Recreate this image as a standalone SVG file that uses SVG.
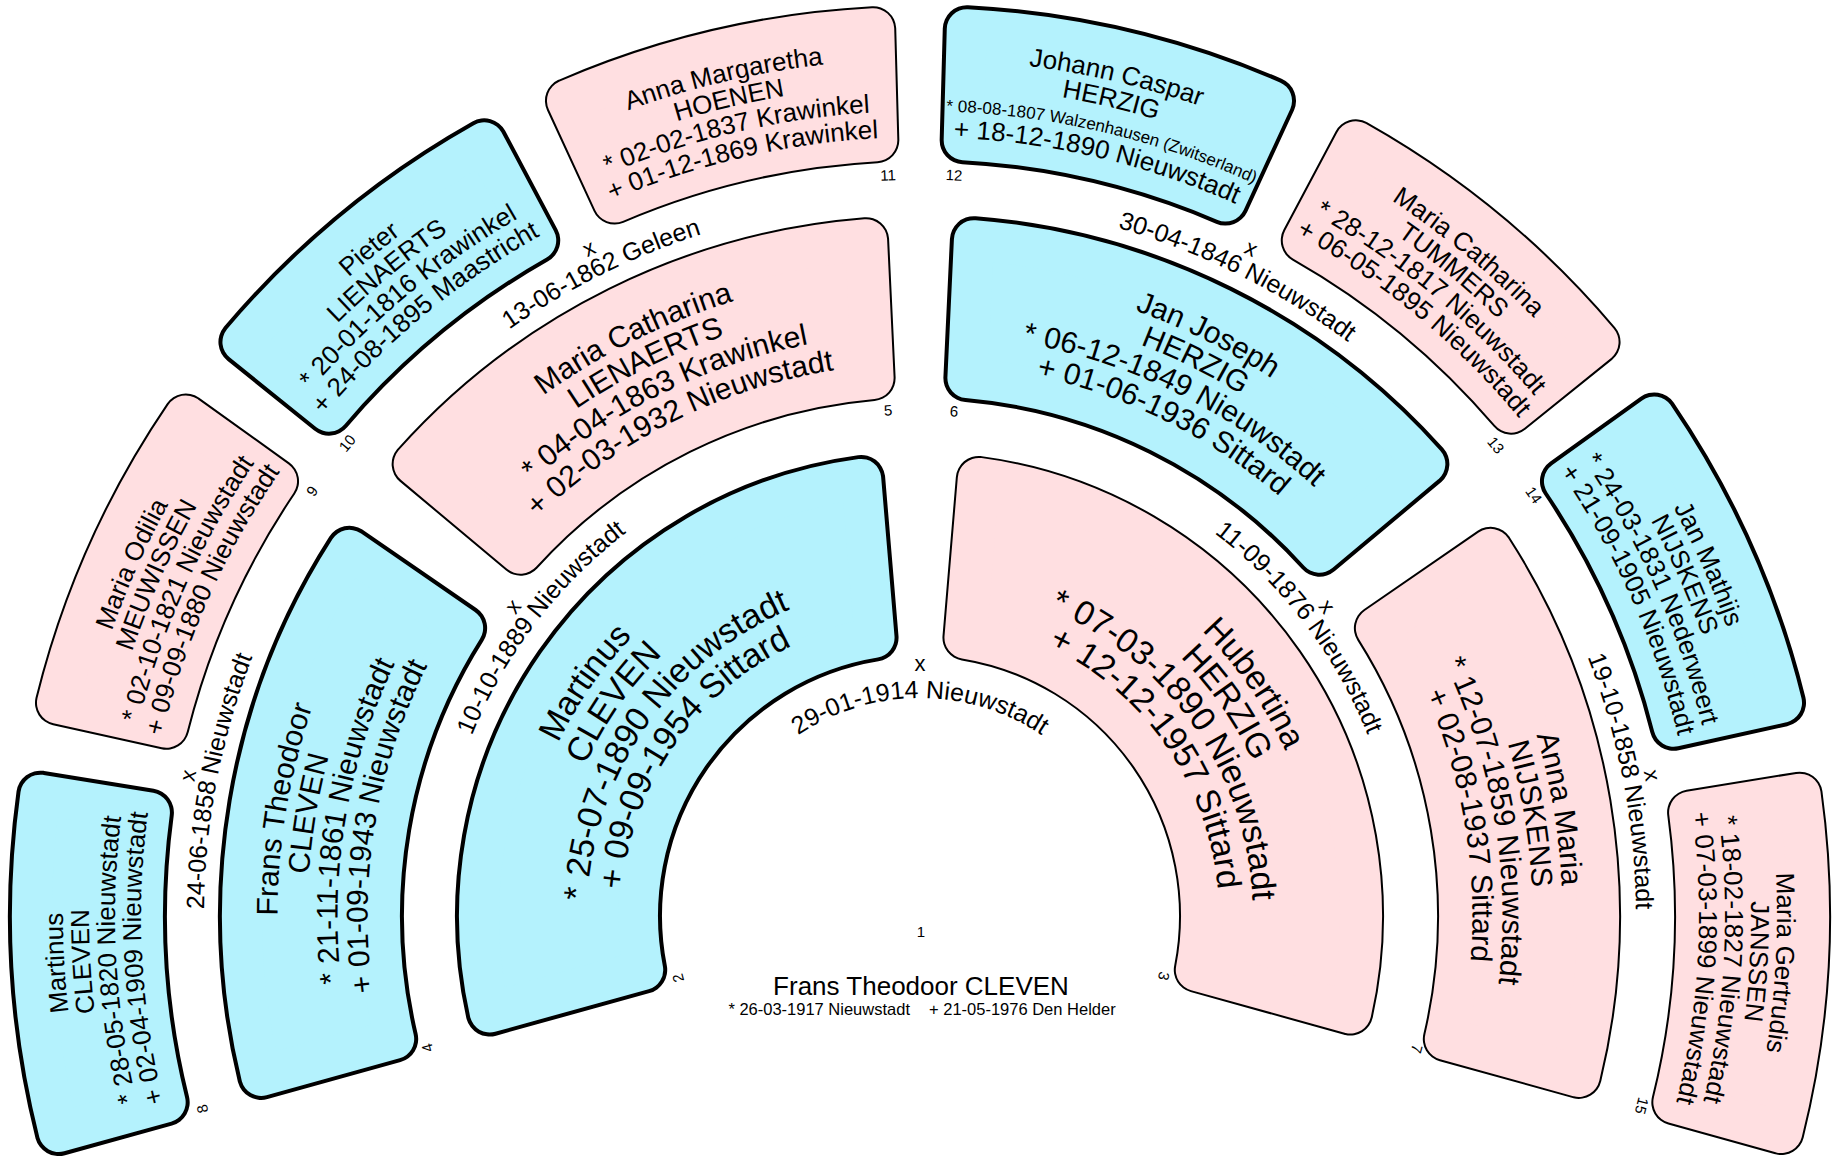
<svg xmlns="http://www.w3.org/2000/svg" xmlns:xlink="http://www.w3.org/1999/xlink" width="1834" height="1163" viewBox="0 0 1834 1163">
<style>
text{font-family:'Liberation Sans',Arial,Helvetica,sans-serif;fill:#000;text-anchor:middle}
.om{fill:#000;stroke:#000;stroke-width:48;stroke-linejoin:round}
.fm{fill:#b4f2fd;stroke:#b4f2fd;stroke-width:40;stroke-linejoin:round}
.of{fill:#000;stroke:#000;stroke-width:46;stroke-linejoin:round}
.ff{fill:#ffdfe1;stroke:#ffdfe1;stroke-width:42;stroke-linejoin:round}
.t1{font-size:34px}.t2{font-size:30px}.t3{font-size:26px}.ts{font-size:17px}
.tm{font-size:25px}.tx{font-size:22px}.num{font-size:15px;dominant-baseline:central}
.c1{font-size:26px}.c2{font-size:16.5px}
</style>
<defs>
<path id="g1" d="M -325.09 -297.99 A 441 441 0 0 1 325.09 -297.99 L 202.43 -196.33 A 282 282 0 0 0 -202.43 -196.33 Z"/>
<path id="g2a" d="M -266.72 -623.33 A 678 678 0 0 1 266.72 -623.33 L 208.31 -498.21 A 540 540 0 0 0 -208.31 -498.21 Z"/>
<path id="g2b" d="M -251.97 -629.45 A 678 678 0 0 1 251.97 -629.45 L 196.51 -502.97 A 540 540 0 0 0 -196.51 -502.97 Z"/>
<path id="g3a" d="M -168.95 -871.79 A 888 888 0 0 1 168.95 -871.79 L 145.13 -763.33 A 777 777 0 0 0 -145.13 -763.33 Z"/>
<path id="g3b" d="M -156.77 -874.06 A 888 888 0 0 1 156.77 -874.06 L 134.46 -765.28 A 777 777 0 0 0 -134.46 -765.28 Z"/>
<path id="p401" d="M -376.82 -137.15 A 401 401 0 0 1 376.82 -137.15"/>
<path id="p367" d="M -344.87 -125.52 A 367 367 0 0 1 344.87 -125.52"/>
<path id="p333" d="M -312.92 -113.89 A 333 333 0 0 1 312.92 -113.89"/>
<path id="p299" d="M -280.97 -102.26 A 299 299 0 0 1 280.97 -102.26"/>
<path id="p642" d="M -603.75 -219.75 A 642.5 642.5 0 0 1 603.75 -219.75"/>
<path id="p612" d="M -575.56 -209.49 A 612.5 612.5 0 0 1 575.56 -209.49"/>
<path id="p582" d="M -547.37 -199.23 A 582.5 582.5 0 0 1 547.37 -199.23"/>
<path id="p552" d="M -519.18 -188.97 A 552.5 552.5 0 0 1 519.18 -188.97"/>
<path id="p857" d="M -805.31 -293.11 A 857 857 0 0 1 805.31 -293.11"/>
<path id="p831" d="M -780.88 -284.22 A 831 831 0 0 1 780.88 -284.22"/>
<path id="p805" d="M -756.45 -275.33 A 805 805 0 0 1 756.45 -275.33"/>
<path id="p779" d="M -732.02 -266.43 A 779 779 0 0 1 732.02 -266.43"/>
<path id="p218" d="M -204.85 -74.56 A 218 218 0 0 1 204.85 -74.56"/>
<path id="p483" d="M -453.87 -165.2 A 483 483 0 0 1 453.87 -165.2"/>
<path id="p716" d="M -672.82 -244.89 A 716 716 0 0 1 672.82 -244.89"/>
</defs>

<g id="connectors">
<g id="m2x3" transform="translate(920 916)">
<text class="tx" x="0" y="-245">x</text>
<text class="tm"><textPath href="#p218" startOffset="50%">29-01-1914 Nieuwstadt</textPath></text>
</g>
<g id="m4x5" transform="translate(920 916) rotate(-52.75)">
<text class="tx" x="0" y="-504">x</text>
<text class="tm"><textPath href="#p483" startOffset="50%">10-10-1889 Nieuwstadt</textPath></text>
</g>
<g id="m6x7" transform="translate(920 916) rotate(52.75)">
<text class="tx" x="0" y="-504">x</text>
<text class="tm"><textPath href="#p483" startOffset="50%">11-09-1876 Nieuwstadt</textPath></text>
</g>
<g id="m8x9" transform="translate(920 916) rotate(-79.125)">
<text class="tx" x="0" y="-738">x</text>
<text class="tm"><textPath href="#p716" startOffset="50%">24-06-1858 Nieuwstadt</textPath></text>
</g>
<g id="m10x11" transform="translate(920 916) rotate(-26.375)">
<text class="tx" x="0" y="-738">x</text>
<text class="tm"><textPath href="#p716" startOffset="50%">13-06-1862 Geleen</textPath></text>
</g>
<g id="m12x13" transform="translate(920 916) rotate(26.375)">
<text class="tx" x="0" y="-738">x</text>
<text class="tm"><textPath href="#p716" startOffset="50%">30-04-1846 Nieuwstadt</textPath></text>
</g>
<g id="m14x15" transform="translate(920 916) rotate(79.125)">
<text class="tx" x="0" y="-738">x</text>
<text class="tm"><textPath href="#p716" startOffset="50%">19-10-1858 Nieuwstadt</textPath></text>
</g>
</g>

<g id="n1">
<text class="num" x="921" y="931">1</text>
<text class="c1" x="921" y="995">Frans Theodoor CLEVEN</text>
<text class="c2" x="910" y="1015" style="text-anchor:end">* 26-03-1917 Nieuwstadt</text>
<text class="c2" x="929" y="1015" style="text-anchor:start">+ 21-05-1976 Den Helder</text>
</g>

<g id="n2">
<g transform="translate(920 916) rotate(-55.15)">
<use href="#g1" class="om"/><use href="#g1" class="fm"/>
<text class="t1"><textPath href="#p401" startOffset="50%">Martinus</textPath></text>
<text class="t1"><textPath href="#p367" startOffset="50%">CLEVEN</textPath></text>
<text class="t1"><textPath href="#p333" startOffset="50%">* 25-07-1890 Nieuwstadt</textPath></text>
<text class="t1"><textPath href="#p299" startOffset="50%">+ 09-09-1954 Sittard</textPath></text>
</g>
<text class="num" transform="translate(678 978) rotate(-104.4)">2</text>
</g>

<g id="n3">
<g transform="translate(920 916) rotate(55.15)">
<use href="#g1" class="of"/><use href="#g1" class="ff"/>
<text class="t1"><textPath href="#p401" startOffset="50%">Hubertina</textPath></text>
<text class="t1"><textPath href="#p367" startOffset="50%">HERZIG</textPath></text>
<text class="t1"><textPath href="#p333" startOffset="50%">* 07-03-1890 Nieuwstadt</textPath></text>
<text class="t1"><textPath href="#p299" startOffset="50%">+ 12-12-1957 Sittard</textPath></text>
</g>
<text class="num" transform="translate(1164 976) rotate(103.8)">3</text>
</g>

<g id="n4">
<g transform="translate(920 916) rotate(-80.475)">
<use href="#g2a" class="om"/><use href="#g2a" class="fm"/>
<text class="t2"><textPath href="#p642" startOffset="50%">Frans Theodoor</textPath></text>
<text class="t2"><textPath href="#p612" startOffset="50%">CLEVEN</textPath></text>
<text class="t2"><textPath href="#p582" startOffset="50%">* 21-11-1861 Nieuwstadt</textPath></text>
<text class="t2"><textPath href="#p552" startOffset="50%">+ 01-09-1943 Nieuwstadt</textPath></text>
</g>
<text class="num" transform="translate(427 1048) rotate(-105)">4</text>
</g>

<g id="n5">
<g transform="translate(920 916) rotate(-26.375)">
<use href="#g2b" class="of"/><use href="#g2b" class="ff"/>
<text class="t2"><textPath href="#p642" startOffset="50%">Maria Catharina</textPath></text>
<text class="t2"><textPath href="#p612" startOffset="50%">LIENAERTS</textPath></text>
<text class="t2"><textPath href="#p582" startOffset="50%">* 04-04-1863 Krawinkel</textPath></text>
<text class="t2"><textPath href="#p552" startOffset="50%">+ 02-03-1932 Nieuwstadt</textPath></text>
</g>
<text class="num" transform="translate(888 410) rotate(-3.6)">5</text>
</g>

<g id="n6">
<g transform="translate(920 916) rotate(26.375)">
<use href="#g2b" class="om"/><use href="#g2b" class="fm"/>
<text class="t2"><textPath href="#p642" startOffset="50%">Jan Joseph</textPath></text>
<text class="t2"><textPath href="#p612" startOffset="50%">HERZIG</textPath></text>
<text class="t2"><textPath href="#p582" startOffset="50%">* 06-12-1849 Nieuwstadt</textPath></text>
<text class="t2"><textPath href="#p552" startOffset="50%">+ 01-06-1936 Sittard</textPath></text>
</g>
<text class="num" transform="translate(954 411) rotate(3.9)">6</text>
</g>

<g id="n7">
<g transform="translate(920 916) rotate(80.475)">
<use href="#g2a" class="of"/><use href="#g2a" class="ff"/>
<text class="t2"><textPath href="#p642" startOffset="50%">Anna Maria</textPath></text>
<text class="t2"><textPath href="#p612" startOffset="50%">NIJSKENS</textPath></text>
<text class="t2"><textPath href="#p582" startOffset="50%">* 12-07-1859 Nieuwstadt</textPath></text>
<text class="t2"><textPath href="#p552" startOffset="50%">+ 02-08-1937 Sittard</textPath></text>
</g>
<text class="num" transform="translate(1417 1049) rotate(105)">7</text>
</g>

<g id="n8">
<g transform="translate(920 916) rotate(-93.1125)">
<use href="#g3a" class="om"/><use href="#g3a" class="fm"/>
<text class="t3"><textPath href="#p857" startOffset="50%">Martinus</textPath></text>
<text class="t3"><textPath href="#p831" startOffset="50%">CLEVEN</textPath></text>
<text class="t3"><textPath href="#p805" startOffset="50%">* 28-05-1820 Nieuwstadt</textPath></text>
<text class="t3"><textPath href="#p779" startOffset="50%">+ 02-04-1909 Nieuwstadt</textPath></text>
</g>
<text class="num" transform="translate(202 1109) rotate(-105)">8</text>
</g>

<g id="n9">
<g transform="translate(920 916) rotate(-65.9375)">
<use href="#g3b" class="of"/><use href="#g3b" class="ff"/>
<text class="t3"><textPath href="#p857" startOffset="50%">Maria Odilia</textPath></text>
<text class="t3"><textPath href="#p831" startOffset="50%">MEUWISSEN</textPath></text>
<text class="t3"><textPath href="#p805" startOffset="50%">* 02-10-1821 Nieuwstadt</textPath></text>
<text class="t3"><textPath href="#p779" startOffset="50%">+ 09-09-1880 Nieuwstadt</textPath></text>
</g>
<text class="num" transform="translate(312 491) rotate(-55)">9</text>
</g>

<g id="n10">
<g transform="translate(920 916) rotate(-39.5625)">
<use href="#g3b" class="om"/><use href="#g3b" class="fm"/>
<text class="t3"><textPath href="#p857" startOffset="50%">Pieter</textPath></text>
<text class="t3"><textPath href="#p831" startOffset="50%">LIENAERTS</textPath></text>
<text class="t3"><textPath href="#p805" startOffset="50%">* 20-01-1816 Krawinkel</textPath></text>
<text class="t3"><textPath href="#p779" startOffset="50%">+ 24-08-1895 Maastricht</textPath></text>
</g>
<text class="num" transform="translate(347 443) rotate(-50.5)">10</text>
</g>

<g id="n11">
<g transform="translate(920 916) rotate(-13.1875)">
<use href="#g3b" class="of"/><use href="#g3b" class="ff"/>
<text class="t3"><textPath href="#p857" startOffset="50%">Anna Margaretha</textPath></text>
<text class="t3"><textPath href="#p831" startOffset="50%">HOENEN</textPath></text>
<text class="t3"><textPath href="#p805" startOffset="50%">* 02-02-1837 Krawinkel</textPath></text>
<text class="t3"><textPath href="#p779" startOffset="50%">+ 01-12-1869 Krawinkel</textPath></text>
</g>
<text class="num" transform="translate(888 175) rotate(-2.5)">11</text>
</g>

<g id="n12">
<g transform="translate(920 916) rotate(13.1875)">
<use href="#g3b" class="om"/><use href="#g3b" class="fm"/>
<text class="t3"><textPath href="#p857" startOffset="50%">Johann Caspar</textPath></text>
<text class="t3"><textPath href="#p831" startOffset="50%">HERZIG</textPath></text>
<text class="ts"><textPath href="#p805" startOffset="50%">* 08-08-1807 Walzenhausen (Zwitserland)</textPath></text>
<text class="t3"><textPath href="#p779" startOffset="50%">+ 18-12-1890 Nieuwstadt</textPath></text>
</g>
<text class="num" transform="translate(954 175) rotate(2.6)">12</text>
</g>

<g id="n13">
<g transform="translate(920 916) rotate(39.5625)">
<use href="#g3b" class="of"/><use href="#g3b" class="ff"/>
<text class="t3"><textPath href="#p857" startOffset="50%">Maria Catharina</textPath></text>
<text class="t3"><textPath href="#p831" startOffset="50%">TUMMERS</textPath></text>
<text class="t3"><textPath href="#p805" startOffset="50%">* 28-12-1817 Nieuwstadt</textPath></text>
<text class="t3"><textPath href="#p779" startOffset="50%">+ 06-05-1895 Nieuwstadt</textPath></text>
</g>
<text class="num" transform="translate(1496 445) rotate(50.7)">13</text>
</g>

<g id="n14">
<g transform="translate(920 916) rotate(65.9375)">
<use href="#g3b" class="om"/><use href="#g3b" class="fm"/>
<text class="t3"><textPath href="#p857" startOffset="50%">Jan Mathijs</textPath></text>
<text class="t3"><textPath href="#p831" startOffset="50%">NIJSKENS</textPath></text>
<text class="t3"><textPath href="#p805" startOffset="50%">* 24-03-1831 Nederweert</textPath></text>
<text class="t3"><textPath href="#p779" startOffset="50%">+ 21-09-1905 Nieuwstadt</textPath></text>
</g>
<text class="num" transform="translate(1534 495) rotate(55.6)">14</text>
</g>

<g id="n15">
<g transform="translate(920 916) rotate(93.1125)">
<use href="#g3a" class="of"/><use href="#g3a" class="ff"/>
<text class="t3"><textPath href="#p857" startOffset="50%">Maria Gertrudis</textPath></text>
<text class="t3"><textPath href="#p831" startOffset="50%">JANSSEN</textPath></text>
<text class="t3"><textPath href="#p805" startOffset="50%">* 18-02-1827 Nieuwstadt</textPath></text>
<text class="t3"><textPath href="#p779" startOffset="50%">+ 07-03-1899 Nieuwstadt</textPath></text>
</g>
<text class="num" transform="translate(1642 1106) rotate(104.7)">15</text>
</g>
</svg>
